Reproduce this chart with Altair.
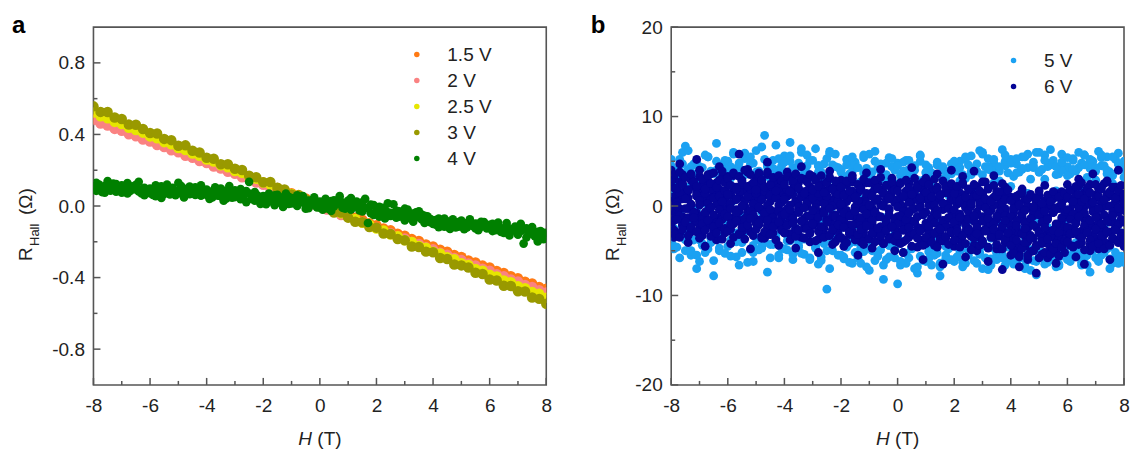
import altair as alt
import numpy as np
import pandas as pd

FONT = "Liberation Sans"
INK = "#222222"
FRAME = "#555555"

H_DOMAIN = [-8, 8]
H_MAJOR = [-8, -6, -4, -2, 0, 2, 4, 6, 8]
H_MINOR = [-7, -5, -3, -1, 1, 3, 5, 7]

A_DOMAIN = [-1.0, 1.0]
A_MAJOR = [-0.8, -0.4, 0.0, 0.4, 0.8]
A_MINOR = [-0.6, -0.2, 0.2, 0.6]

B_DOMAIN = [-20, 20]
B_MAJOR = [-20, -10, 0, 10, 20]
B_MINOR = [-15, -5, 5, 15]

A_SERIES = ["1.5 V", "2 V", "2.5 V", "3 V", "4 V"]
A_COLORS = ["#FF7A14", "#FA8282", "#E6E600", "#999900", "#008000"]
B_SERIES = ["5 V", "6 V"]
B_COLORS = ["#1BA1F2", "#050596"]

# ---- panel a : R_Hall in milli-ohm, sweep -8 T -> 8 T (0.25 T step) ----
R_1V5_mOhm = [487, 468, 457, 439, 428, 409, 398, 379, 368,
              349, 339, 320, 309, 290, 279, 260, 250,
              231, 220, 201, 190, 171, 161, 142, 131,
              112, 101, 82, 72, 53, 42, 23, 12,
              -7, -18, -37, -47, -66, -77, -96, -107,
              -126, -136, -155, -166, -185, -196, -215, -226,
              -244, -255, -274, -285, -304, -315, -333, -344,
              -363, -374, -393, -404, -423, -433, -452, -463]
R_2V_mOhm = [480, 461, 450, 431, 420, 401, 390, 371, 360,
             341, 330, 311, 300, 281, 270, 251, 240,
             221, 210, 191, 180, 161, 150, 131, 119,
             100, 89, 70, 59, 40, 29, 10, -1,
             -20, -31, -50, -61, -80, -91, -110, -122,
             -141, -152, -171, -182, -201, -212, -231, -242,
             -261, -272, -291, -302, -321, -332, -351, -362,
             -381, -392, -411, -422, -441, -452, -471, -483]
R_2V5_mOhm = [522, 501, 490, 470, 458, 437, 425, 410, 389,
              378, 357, 345, 324, 313, 293, 281, 260,
              249, 228, 217, 196, 185, 163, 152, 131,
              120, 99, 88, 67, 56, 35, 23, 2,
              -9, -30, -41, -62, -73, -94, -105, -126,
              -137, -159, -169, -191, -201, -223, -233, -255,
              -265, -287, -298, -320, -330, -352, -362, -384,
              -394, -416, -426, -448, -459, -481, -491, -513]
R_3V_mOhm = [557, 526, 525, 495, 486, 455, 454, 430, 408,
             405, 375, 368, 337, 339, 309, 299, 270,
             264, 233, 233, 208, 201, 169, 161, 133,
             134, 102, 92, 64, 62, 36, 30, -1,
             -7, -36, -37, -65, -88, -91, -118, -121,
             -154, -157, -185, -192, -226, -229, -255, -258,
             -291, -296, -327, -332, -344, -373, -380, -411,
             -416, -446, -447, -476, -478, -511, -519, -546]
# 4 V, two sweeps, 0.1 T step
R_4V_UP_mOhm = [110, 85, 120, 95, 75, 105, 90, 125, 80, 100, 115, 88, 70, 108, 96, 118, 82, 92, 60, 78,
                72, 95, 55, 88, 110, 68, 90, 78, 102, 60, 85, 112, 74, 96, 66, 88, 105, 70, 58, 84,
                62, 80, 48, 90, 70, 55, 85, 42, 66, 78, 50, 72, 38, 60, 84, 135, 44, 30, 58, 12,
                35, 10, 48, 25, 60, 18, 40, -5, 30, 52, 15, 38, 0, 26, 45, 8, -12, 22, 35, 2,
                -8, 20, 5, -15, 28, -3, 12, 35, -10, 18, 2, -20, 10, 25, -6, -30, -12, -95, -40, 5,
                -28, -5, -45, -20, 15, -38, -52, -25, -60, -35, -15, -48, -70, -42, -58, -30, -75, -55, -68, -90,
                -80, -105, -70, -95, -115, -85, -100, -75, -120, -90, -110, -130, -95, -80, -105, -125, -100, -115, -90, -110,
                -120, -100, -135, -110, -145, -125, -95, -150, -130, -115, -160, -140, -210, -125, -155, -135, -170, -145, -180, -150,
                -165]
R_4V_DOWN_mOhm = [90, 130, 100, 78, 112, 140, 86, 98, 122, 105, 75, 96, 128, 84, 110, 92, 135, 70, 102, 88,
                  98, 62, 115, 82, 45, 100, 120, 65, 92, 80, 130, 70, 48, 94, 108, 76, 62, 99, 115, 74,
                  92, 40, 75, 105, 58, 98, 30, 72, 112, 46, 88, 64, 95, 52, 22, 70, 40, 78, 50, 36,
                  55, 22, 70, 40, 5, 62, 30, 48, 70, 12, 44, 28, 60, 20, 55, -15, 30, 10, 48, -8,
                  25, -20, 40, 10, -28, 32, 18, 55, 8, -15, 30, 45, -5, 15, -25, 20, 40, -10, 8, -50,
                  -40, -60, -10, -70, -35, -55, 10, -65, -30, -45, -80, -20, -50, -88, -35, -62, -48, -95, -58, -72,
                  -100, -78, -118, -92, -70, -108, -128, -85, -98, -115, -82, -105, -120, -75, -112, -98, -135, -88, -102, -125,
                  -105, -140, -118, -92, -128, -150, -110, -165, -138, -120, -148, -100, -132, -175, -145, -118, -160, -198, -140, -185,
                  -150]

# ---- panel b : R_Hall in deci-ohm, sweeps -8 T -> 8 T (0.1 T step) ----
R_5V_S1_dOhm = [45, -48, 38, 52, -20, 67, 41, -55, 30, 48, -62, 43, 5, 55, -41, 36, 70, -50, 46, -12,
                50, -38, 58, 42, -66, 35, 53, -8, 47, -52, 62, 39, -45, 79, 44, -30, 51, 68, -58, 40,
                56, -49, 71, 43, -25, 48, 60, -54, 37, 51, -40, 64, 45, -61, 33, 53, -70, 46, 58, -36,
                41, -57, 52, 36, -64, 49, 25, -46, 57, 42, -72, 38, 61, -52, 47, 30, -60, 54, 44, -48,
                48, -66, 39, 51, -58, 33, 45, -75, 50, 29, -62, 43, 37, -55, 46, -68, 40, 32, -60, 47,
                42, -57, 50, 35, -64, 46, 56, -49, 39, 62, -70, 44, 53, -59, 48, 40, -52, 63, 45, -61,
                52, -65, 47, 38, -58, 55, 43, -72, 49, 60, -54, 41, 57, -63, 46, 51, -68, 36, 58, -50,
                44, -62, 53, 39, -55, 48, 57, -66, 42, 50, -58, 61, 45, -52, 55, 38, -64, 52, 47, -56,
                46]
R_5V_S2_dOhm = [-40, 28, -46, -33, 37, -50, -28, 44, -38, -70, 32, -44, -52, 25, -36, -78, 40, -47, -30, 35,
                -45, 31, -35, -57, 42, -41, -29, 36, -49, -62, 27, -38, -47, 33, -74, -43, 38, -32, -55, 45,
                -48, 35, -39, -60, 29, -44, -53, 41, -36, -58, 32, -47, -65, 38, -42, -93, 30, -50, -37, 43,
                -55, 33, -46, -63, 39, -40, -58, 27, -51, -68, 35, -44, -61, 42, -49, -82, 31, -57, -45, 40,
                -87, 34, -52, -64, 41, -47, -70, 29, -56, -61, 38, -45, -66, 33, -53, -78, 44, -59, -48, 36,
                -62, 39, -50, -68, 31, -55, -44, 42, -64, -52, 35, -58, -71, 40, -47, -60, 28, -54, -66, 37,
                -57, 33, -63, -49, 41, -70, -54, 30, -61, -77, 38, -52, -65, 44, -58, -48, 35, -67, -56, 40,
                -60, 36, -53, -47, 43, -66, -58, 32, -74, -50, 39, -62, -55, 45, -48, -70, 34, -57, -64, 41,
                -63]
R_5V_S3_dOhm = [12, -25, 33, -8, 60, -32, 21, -15, 47, -4, -38, 26, 3, 55, -20, 17, -29, 39, -10, 51,
                -18, 44, 6, -30, 35, -12, 59, -24, 15, 48, -36, 23, -7, 52, -27, 31, -43, 9, 40, -16,
                27, -33, 50, -11, 19, -40, 34, -2, 57, -22, 13, -46, 45, -17, 29, -35, 61, -9, 22, -28,
                38, -14, 24, -42, 47, -21, 11, -37, 54, -6, 30, -50, 20, -26, 43, -13, 35, -44, 17, -31,
                25, -39, 49, -19, 33, -48, 14, -28, 56, -10, 37, -51, 23, -34, 46, -18, 30, -45, 12, -25,
                41, -22, 28, -47, 52, -16, 35, -40, 19, -31, 58, -12, 44, -36, 26, -53, 39, -20, 50, -29,
                22, -44, 37, -26, 55, -35, 14, -49, 43, -18, 60, -38, 30, -24, 48, -56, 17, -32, 40, -21,
                34, -27, 51, -41, 20, -33, 57, -15, 45, -50, 29, -38, 54, -23, 36, -46, 25, -19, 59, -30,
                32]
R_5V_S4_dOhm = [52, -45, 40, -58, 47, -38, 62, -50, 36, -55, 44, -42, 57, -48, 39, -61, 50, -37, 45, -53,
                41, -56, 60, -40, 48, -52, 35, -63, 55, -44, 38, -49, 66, -41, 46, -58, 42, -36, 53, -47,
                49, -39, 56, -54, 42, -46, 64, -37, 45, -60, 51, -43, 38, -57, 47, -50, 59, -41, 44, -55,
                40, -59, 46, -38, 55, -52, 43, -64, 37, -47, 58, -42, 50, -56, 39, -66, 48, -44, 53, -58,
                45, -62, 38, -53, 51, -47, 40, -68, 57, -43, 46, -59, 36, -51, 49, -64, 42, -55, 39, -60,
                50, -57, 43, -63, 55, -48, 39, -61, 47, -54, 60, -45, 41, -66, 52, -50, 44, -58, 57, -46,
                48, -60, 53, -55, 42, -67, 58, -49, 45, -62, 38, -57, 51, -53, 63, -47, 44, -65, 49, -52,
                54, -58, 41, -50, 60, -63, 46, -55, 52, -48, 43, -61, 57, -45, 40, -59, 55, -52, 47, -57,
                50]
R_6V_S1_dOhm = [22, 30, 12, 27, 35, 18, 9, 31, 24, 15, 33, 20, 8, 28, 36, 14, 25, 19, 32, 11,
                26, 13, 34, 21, 10, 29, 17, 38, 23, 7, 31, 16, 27, 12, 35, 20, 9, 30, 24, 14,
                28, 11, 33, 19, 6, 26, 15, 30, 8, 22, 13, 29, 4, 24, 17, 27, 2, 20, 10, 25,
                18, 3, 24, 9, 27, -1, 15, 21, 6, 26, 12, -2, 19, 25, 1, 14, 23, 8, 20, 4,
                22, 10, -1, 17, 25, 5, 13, 24, 0, 19, 8, 26, 14, -2, 21, 11, 3, 23, 16, 7,
                20, 2, 15, 24, 9, -3, 18, 12, 22, 0, 14, 6, 19, -4, 10, 16, 1, 13, -6, 8,
                10, -5, 4, 13, -12, 7, -2, 11, -8, 3, 12, -10, 6, 0, 9, -7, 14, -3, 5, 8,
                13, -4, 18, 6, 22, 1, 15, 9, 24, -2, 12, 19, 3, 25, 10, 16, 0, 21, 7, 14,
                11]
R_6V_S2_dOhm = [-18, -27, -5, -31, -12, -22, -3, -29, -15, -8, -25, -33, -10, -20, -1, -28, -14, -24, -6, -30,
                -11, -26, -19, -4, -32, -16, -23, -7, -29, -13, -2, -21, -34, -9, -25, -17, -30, -6, -22, -14,
                -20, -8, -31, -15, -26, -4, -35, -18, -11, -29, -22, -13, -37, -7, -25, -33, -16, -28, -10, -36,
                -14, -38, -23, -30, -11, -34, -19, -40, -26, -15, -37, -21, -31, -12, -39, -27, -17, -35, -24, -33,
                -29, -13, -40, -22, -35, -17, -31, -12, -38, -25, -42, -19, -33, -15, -28, -39, -21, -36, -14, -30,
                -24, -37, -16, -41, -28, -13, -34, -44, -20, -31, -39, -26, -46, -18, -35, -29, -48, -22, -41, -33,
                -38, -49, -27, -53, -31, -45, -25, -51, -36, -44, -30, -54, -40, -28, -47, -35, -52, -33, -43, -29,
                -37, -26, -45, -19, -33, -41, -15, -30, -43, -22, -38, -13, -34, -28, -42, -18, -36, -24, -40, -16,
                -31]
R_6V_S3_dOhm = [5, -9, 14, -3, 8, -14, 17, 1, -7, 11, -12, 4, 19, -5, 9, -16, 2, 13, -10, 6,
                -2, 12, -13, 7, -6, 16, 0, -11, 10, 3, -15, 8, -4, 14, -8, 5, -12, 11, 1, -6,
                9, -3, 13, -10, 4, -7, 11, -14, 0, 7, -17, 3, -9, 10, -5, -15, 6, -11, 1, -19,
                -4, -16, 5, -21, -9, 8, -13, -2, -20, 3, -7, -18, 6, -11, -23, 0, -15, -5, 9, -19,
                -12, 2, -21, -6, 8, -17, -3, -24, 5, -10, -19, 1, -14, -8, 7, -22, -4, -16, 3, -11,
                -9, -20, 4, -14, -2, -25, 6, -17, -7, -28, -12, 1, -22, -5, -30, -15, -10, -26, -3, -19,
                -22, -8, -31, -15, -3, -26, -18, -36, -11, -24, -5, -33, -19, -13, -29, -7, -38, -21, -16, -27,
                -10, -25, 2, -18, -6, -28, -1, -14, -22, 4, -9, -20, -3, -26, 0, -13, -17, 5, -7, -15,
                -5]
R_6V_S4_dOhm = [40, -35, 3, 47, -22, 16, -41, 29, -8, 52, -30, 10, -45, 35, -16, 24, -38, 44, -3, -26,
                33, -42, 19, -11, 58, -29, 6, 41, -48, 25, -19, 37, -5, -36, 49, 13, -24, 31, -44, 21,
                -30, 38, -14, 26, -47, 2, 44, -25, 17, -40, 33, -6, -52, 23, -33, 11, 39, -43, 15, -28,
                29, -45, 12, -32, 34, -20, -55, 19, -38, 37, -10, -47, 22, -28, 41, -42, 7, -36, 31, -50,
                -40, 25, -52, 10, -33, 43, -18, -46, 20, -60, 31, -27, 6, -44, 36, -35, -65, 15, -24, 40,
                -45, 18, -38, 33, -57, 2, -30, 39, -50, 12, -42, 27, -62, -20, 34, -48, 8, -71, 21, -36,
                -55, 5, -46, -68, 19, -33, -60, 10, -50, -75, 2, -42, 23, -58, -28, 8, -64, -37, 16, -52,
                24, -44, 7, -57, 30, -35, -65, 15, -50, 36, -27, -48, 21, -40, 28, -60, 11, -38, 40, -32,
                -45]
R_6V_S5_dOhm = [10, 20, 4, 15, 25, 8, 18, 2, 22, 12, 6, 24, 14, 3, 19, 9, 26, 11, 5, 17,
                13, 3, 21, 8, 16, 24, 6, 11, 19, 2, 14, 23, 7, 17, 1, 12, 25, 9, 20, 4,
                7, 18, 1, 13, 22, -1, 10, 16, 4, 20, 9, -2, 14, 23, 3, 11, 19, 0, 15, 6,
                2, 13, -5, 9, 17, -2, 6, 19, -4, 11, 1, 15, -6, 8, 18, 0, 12, -3, 16, 5,
                -1, 10, -6, 14, 4, -4, 17, 7, -2, 12, -7, 9, 18, 1, -5, 13, 3, 15, -3, 8,
                -4, 8, -9, 3, 12, -6, 0, 10, -10, 5, 13, -2, -8, 7, 1, 11, -7, 4, -11, 9,
                -12, -2, -17, 3, -8, -19, 0, -14, -5, 4, -10, -18, -3, -15, 2, -7, -20, -1, -13, -6,
                -4, 8, -9, 12, -1, 5, -8, 14, 2, -6, 10, -3, 6, -10, 13, 0, -7, 9, -2, 11,
                3]
R_6V_S6_dOhm = [-5, -16, 0, -11, -21, -3, -13, -23, -8, -18, 1, -14, -7, -22, -2, -10, -19, -4, -15, -9,
                -12, -3, -20, -7, -17, 0, -14, -24, -5, -10, -19, -1, -15, -8, -22, -4, -13, -18, -6, -11,
                -9, -20, -4, -14, -25, -7, -17, -2, -22, -11, -5, -19, -13, -26, -8, -16, -3, -21, -12, -24,
                -15, -8, -24, -11, -28, -6, -19, -13, -30, -9, -22, -16, -7, -26, -12, -29, -18, -10, -23, -14,
                -20, -11, -27, -15, -8, -30, -18, -12, -25, -9, -22, -31, -14, -19, -10, -28, -16, -24, -13, -29,
                -18, -26, -13, -33, -21, -15, -29, -11, -24, -35, -17, -27, -14, -31, -20, -12, -34, -23, -16, -30,
                -28, -37, -22, -43, -31, -25, -40, -33, -21, -45, -29, -36, -24, -42, -34, -27, -44, -30, -38, -23,
                -24, -15, -31, -19, -12, -34, -22, -28, -16, -33, -13, -26, -20, -32, -17, -29, -11, -25, -21, -30,
                -18]
R_6V_S7_dOhm = [28, 35, 20, 38, 24, 32, 18, 36, 27, 22, 40, 30, 19, 34, 25, 37, 21, 29, 39, 26,
                31, 23, 37, 19, 33, 27, 40, 22, 35, 26, 18, 36, 29, 21, 38, 24, 32, 17, 34, 28,
                24, 33, 16, 29, 36, 20, 31, 14, 27, 35, 18, 30, 22, 34, 15, 26, 32, 19, 28, 13,
                21, 12, 28, 17, 31, 10, 24, 19, 30, 14, 26, 11, 29, 20, 32, 15, 23, 9, 27, 18,
                17, 26, 11, 29, 20, 13, 31, 22, 9, 27, 15, 24, 10, 30, 18, 12, 28, 21, 14, 25,
                14, 22, 6, 26, 10, 19, 3, 24, 12, 17, 27, 8, 20, 5, 23, 11, 16, 25, 7, 18,
                6, -3, 11, 1, 15, -5, 8, 13, -1, 9, 17, 3, -6, 12, 5, 16, -2, 10, 2, 14,
                10, 18, 5, 22, 13, 26, 8, 20, 15, 4, 24, 11, 19, 7, 27, 14, 21, 9, 17, 23,
                12]
R_6V_S8_dOhm = [-22, -31, -15, -35, -26, -18, -33, -24, -13, -29, -36, -20, -27, -16, -34, -23, -30, -19, -37, -25,
                -28, -20, -35, -17, -31, -24, -37, -21, -14, -33, -26, -19, -36, -29, -16, -32, -23, -38, -18, -27,
                -30, -22, -38, -19, -34, -27, -17, -36, -25, -31, -20, -39, -28, -23, -35, -18, -33, -26, -40, -21,
                -35, -24, -41, -29, -21, -38, -32, -26, -43, -22, -36, -30, -40, -25, -34, -42, -27, -37, -23, -39,
                -33, -42, -27, -38, -24, -45, -31, -36, -28, -44, -35, -23, -40, -30, -46, -26, -39, -34, -43, -29,
                -38, -29, -46, -33, -42, -27, -49, -36, -31, -44, -40, -28, -47, -35, -26, -43, -32, -48, -37, -30,
                -44, -53, -38, -57, -47, -41, -55, -36, -50, -45, -58, -40, -52, -37, -54, -48, -42, -56, -46, -39,
                -40, -31, -46, -28, -43, -35, -49, -30, -38, -45, -26, -42, -33, -48, -29, -44, -36, -27, -41, -34,
                -37]

W, HT = 453, 358
MINUS_FIX = "replace(datum.label, '\u2212', '-')"


def sweep(values, label, per_unit):
    h = np.linspace(H_DOMAIN[0], H_DOMAIN[1], len(values))
    return pd.DataFrame({"H": h, "R": np.asarray(values, dtype=float) / per_unit, "V": label})


df_a_lines = pd.concat([
    sweep(R_1V5_mOhm, "1.5 V", 1000),
    sweep(R_2V_mOhm, "2 V", 1000),
    sweep(R_2V5_mOhm, "2.5 V", 1000),
    sweep(R_3V_mOhm, "3 V", 1000),
], ignore_index=True)
df_a_4v = pd.concat([
    sweep(R_4V_UP_mOhm, "4 V", 1000),
    sweep(R_4V_DOWN_mOhm, "4 V", 1000),
], ignore_index=True)

df_b = pd.concat(
    [sweep(v, "5 V", 10) for v in (R_5V_S1_dOhm, R_5V_S2_dOhm, R_5V_S3_dOhm, R_5V_S4_dOhm)]
    + [sweep(v, "6 V", 10) for v in (R_6V_S1_dOhm, R_6V_S2_dOhm, R_6V_S3_dOhm, R_6V_S4_dOhm,
                                     R_6V_S5_dOhm, R_6V_S6_dOhm, R_6V_S7_dOhm, R_6V_S8_dOhm)],
    ignore_index=True)

ONE = pd.DataFrame({"k": [0]})


def text(t, x, y, **kw):
    style = dict(font=FONT, color=INK, fontSize=19, align="left", baseline="alphabetic")
    style.update(kw)
    return alt.Chart(ONE).mark_text(text=t, **style).encode(x=alt.value(x), y=alt.value(y))


def panel(groups, series, colors, y_domain, y_major, y_minor, y_fmt, legend_xy,
          letter, letter_x, r_x, hall_x):
    x_enc = alt.X("H:Q", scale=alt.Scale(domain=H_DOMAIN, nice=False, zero=False),
                  axis=alt.Axis(values=H_MAJOR, format="d", labelExpr=MINUS_FIX, tickSize=0,
                                domain=False, grid=False, labelFont=FONT, labelFontSize=19,
                                labelColor=INK, labelPadding=21, labelBaseline="middle",
                                labelFlush=False, labelOverlap=False, title=None))
    y_enc = alt.Y("R:Q", scale=alt.Scale(domain=y_domain, nice=False, zero=False),
                  axis=alt.Axis(values=y_major, format=y_fmt, labelExpr=MINUS_FIX, tickSize=0,
                                domain=False, grid=False, labelFont=FONT, labelFontSize=19,
                                labelColor=INK, labelPadding=9, labelFlush=False,
                                labelOverlap=False, title=None))
    c_enc = alt.Color("V:N", scale=alt.Scale(domain=series, range=colors),
                      legend=alt.Legend(orient="none", legendX=legend_xy[0], legendY=legend_xy[1],
                                        title=None, labelFont=FONT, labelFontSize=19,
                                        labelColor=INK, symbolType="circle", symbolSize=30,
                                        symbolStrokeWidth=0, rowPadding=6, labelOffset=21,
                                        padding=0))
    point_layers = [
        alt.Chart(df).mark_circle(size=dot, opacity=1, clip=True).encode(x=x_enc, y=y_enc, color=c_enc)
        for df, dot in groups
    ]

    def xt(vals, n):
        return alt.Chart(pd.DataFrame({"H": vals})).mark_rule(color=FRAME, strokeWidth=1.5).encode(
            x=x_enc, y=alt.value(HT), y2=alt.value(HT - n))

    def yt(vals, n):
        return alt.Chart(pd.DataFrame({"R": vals})).mark_rule(color=FRAME, strokeWidth=1.5).encode(
            y=y_enc, x=alt.value(0), x2=alt.value(n))

    cx = W / 2
    layers = point_layers + [
        xt(H_MAJOR, 7), xt(H_MINOR, 4), yt(y_major, 7), yt(y_minor, 4),
        text(letter, letter_x, -13, fontSize=24, fontWeight="bold", baseline="top", color="#000000"),
        text("H", cx - 21.5, HT + 60, fontStyle="italic"),
        text("(T)", cx - 2.5, HT + 60),
        text("R", r_x, 234, angle=270),
        text("Hall", hall_x, 219, angle=270, fontSize=13),
        text("(\u03a9)", r_x, 188, angle=270),
    ]
    return alt.layer(*layers).properties(width=W, height=HT)


pa = panel([(df_a_lines, 110), (df_a_4v, 75)], A_SERIES, A_COLORS, A_DOMAIN, A_MAJOR, A_MINOR,
           ".1f", (314, 18), "a", -81.5, -61.5, -54)
pb = panel([(df_b, 78)], B_SERIES, B_COLORS, B_DOMAIN, B_MAJOR, B_MINOR,
           "d", (333, 24), "b", -80.5, -52, -45)

chart = (
    alt.hconcat(pa, pb, spacing=36)
    .resolve_scale(color="independent")
    .configure_view(stroke=FRAME, strokeWidth=1.6)
    .properties(padding={"left": 10.5, "top": 13, "right": 0, "bottom": 0})
)

chart.save("out.html", embed_options={"renderer": "svg", "actions": False})
